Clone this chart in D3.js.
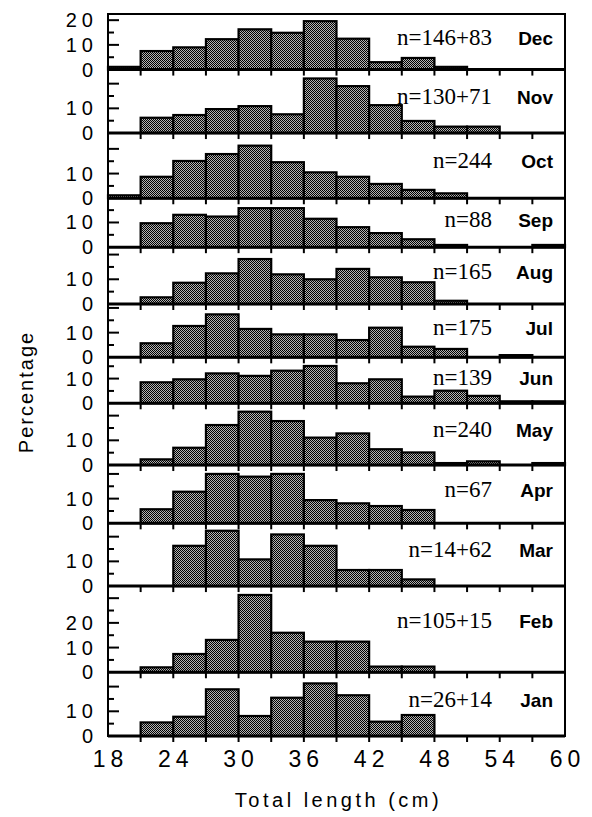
<!DOCTYPE html>
<html>
<head>
<meta charset="utf-8">
<script src="https://cdn.jsdelivr.net/npm/d3@7/dist/d3.min.js"></script>
<style>
  body { margin: 0; background: #fff; }
  svg { display: block; }
</style>
</head>
<body>
<svg id="chart" width="592" height="817"></svg>
<script>
// months, top panel to bottom panel
var months = ["Dec", "Nov", "Oct", "Sep", "Aug", "Jul", "Jun", "May", "Apr", "Mar", "Feb", "Jan"];
var sampleSizes = ["n=146+83", "n=130+71", "n=244", "n=88", "n=165", "n=175",
                   "n=139", "n=240", "n=67", "n=14+62", "n=105+15", "n=26+14"];

// 3 cm length classes starting at 18 cm
var binStarts = [18, 21, 24, 27, 30, 33, 36, 39, 42, 45, 48, 51, 54, 57];
var binWidth = 3;

// percentage per length class
var dec = [1.1, 7.5, 9.0, 12.3, 16.3, 14.9, 19.6, 12.5, 3.0, 4.7, 1.1, 0, 0, 0];
var nov = [0, 6.2, 7.3, 9.7, 10.9, 7.6, 22.1, 19.0, 11.3, 4.9, 2.6, 2.6, 0, 0];
var oct = [1.2, 8.7, 15.1, 17.9, 21.3, 14.6, 10.5, 8.7, 5.8, 3.4, 2.0, 0, 0, 0];
var sep = [0, 9.7, 13.1, 12.4, 15.8, 15.8, 11.5, 8.1, 5.7, 3.2, 0.9, 0, 0, 0.9];
var aug = [0, 2.7, 8.6, 12.4, 18.2, 12.0, 10.0, 14.2, 10.8, 8.8, 1.3, 0, 0, 0];
var jul = [0, 5.7, 12.7, 17.4, 11.5, 9.3, 9.3, 7.0, 12.0, 4.3, 3.4, 0, 0.9, 0];
var jun = [0, 8.5, 9.7, 12.1, 11.1, 13.2, 15.1, 8.1, 9.7, 2.7, 5.1, 3.0, 0.8, 0.8];
var may = [0, 2.3, 7.0, 16.2, 21.6, 17.8, 11.1, 12.8, 6.4, 5.1, 0.8, 1.5, 0, 0.8];
var apr = [0, 5.7, 12.8, 20.0, 18.9, 20.0, 9.4, 8.1, 7.0, 5.4, 0, 0, 0, 0];
var mar = [0, 0, 16.3, 22.4, 10.8, 20.9, 16.3, 6.5, 6.5, 2.7, 0, 0, 0, 0];
var feb = [0, 2.0, 7.4, 13.1, 31.3, 16.0, 12.4, 12.4, 2.3, 2.3, 0, 0, 0, 0];
var jan = [0, 5.5, 7.8, 18.9, 8.1, 15.5, 21.3, 16.5, 5.8, 8.5, 0, 0, 0, 0];
var series = [dec, nov, oct, sep, aug, jul, jun, may, apr, mar, feb, jan];

// y-axis top of each panel and labelled ticks
var yMax = [22.5, 25.7, 26.4, 19.8, 23.0, 21.6, 18.6, 25.0, 23.6, 25.4, 34.9, 25.8];
var yLabels = [[0, 10, 20], [0, 10], [0, 10], [0, 10], [0, 10], [0, 10],
               [0, 10], [0, 10], [0, 10], [0, 10], [0, 10, 20], [0, 10]];
var xTickLabels = [18, 24, 30, 36, 42, 48, 54, 60];

(function() {
  var svg = d3.select("#chart");
  var plotLeft = 108, plotRight = 565, plotTop = 14, plotBottom = 736;

  // dark checkered fill like the printed screen tone
  var pat = svg.append("defs").append("pattern")
    .attr("id", "hatch")
    .attr("patternUnits", "userSpaceOnUse")
    .attr("width", 2).attr("height", 2);
  pat.append("rect").attr("width", 2).attr("height", 2).attr("fill", "#b4b4b4");
  pat.append("rect").attr("x", 0).attr("y", 0).attr("width", 1).attr("height", 1).attr("fill", "#000");
  pat.append("rect").attr("x", 1).attr("y", 1).attr("width", 1).attr("height", 1).attr("fill", "#000");

  var x = d3.scaleLinear().domain([18, 60]).range([plotLeft, plotRight]);

  // stack panels, height proportional to their y range
  var pxPerUnit = (plotBottom - plotTop) / d3.sum(yMax);
  var y0 = plotTop;

  series.forEach(function(vals, i) {
    var h = yMax[i] * pxPerUnit;
    var base = y0 + h;
    var y = d3.scaleLinear().domain([0, yMax[i]]).range([base, y0]);
    var g = svg.append("g");

    var bins = binStarts.map(function(b, j) { return { x0: b, v: vals[j] }; })
      .filter(function(d) { return d.v > 0; });

    g.selectAll("rect.bar").data(bins).enter().append("rect")
      .attr("class", "bar")
      .attr("x", function(d) { return x(d.x0); })
      .attr("y", function(d) { return y(d.v); })
      .attr("width", function(d) { return x(d.x0 + binWidth) - x(d.x0); })
      .attr("height", function(d) { return y(0) - y(d.v); })
      .attr("fill", "url(#hatch)")
      .attr("stroke", "#000")
      .attr("stroke-width", 2.2);

    // baseline
    g.append("line")
      .attr("x1", plotLeft).attr("x2", plotRight)
      .attr("y1", base).attr("y2", base)
      .attr("stroke", "#000").attr("stroke-width", 3);

    // x ticks hanging under the baseline
    g.selectAll("line.xt").data(d3.range(21, 60, 3)).enter().append("line")
      .attr("class", "xt")
      .attr("x1", function(d) { return x(d); }).attr("x2", function(d) { return x(d); })
      .attr("y1", base).attr("y2", base + 6)
      .attr("stroke", "#000").attr("stroke-width", 2);

    // y ticks inward from the left frame
    var yt = d3.range(5, yMax[i] - 1.5, 5);
    g.selectAll("line.yt").data(yt).enter().append("line")
      .attr("class", "yt")
      .attr("x1", plotLeft).attr("x2", function(d) { return plotLeft + (d % 10 === 0 ? 11 : 6); })
      .attr("y1", function(d) { return y(d); }).attr("y2", function(d) { return y(d); })
      .attr("stroke", "#000").attr("stroke-width", 2);

    g.selectAll("text.yl").data(yLabels[i]).enter().append("text")
      .attr("class", "yl")
      .attr("x", 98)
      .attr("y", function(d) { return y(d) + 7; })
      .attr("text-anchor", "end")
      .style("font-family", "'Liberation Sans', Arial, sans-serif")
      .style("font-size", "20px")
      .style("letter-spacing", "5px")
      .text(function(d) { return d; });

    var ly = y0 + 12 + 0.35 * h;
    g.append("text")
      .attr("x", 492).attr("y", ly)
      .attr("text-anchor", "end")
      .style("font-family", "'Liberation Serif', 'Times New Roman', serif")
      .style("font-size", "23px")
      .text(sampleSizes[i]);
    g.append("text")
      .attr("x", 553).attr("y", ly)
      .attr("text-anchor", "end")
      .style("font-family", "'Liberation Sans', Arial, sans-serif")
      .style("font-size", "19px")
      .style("font-weight", "bold")
      .text(months[i]);

    y0 = base;
  });

  // outer frame
  svg.append("rect")
    .attr("x", plotLeft).attr("y", plotTop)
    .attr("width", plotRight - plotLeft).attr("height", plotBottom - plotTop)
    .attr("fill", "none").attr("stroke", "#000").attr("stroke-width", 2);

  // bottom axis labels
  svg.selectAll("text.xl").data(xTickLabels).enter().append("text")
    .attr("class", "xl")
    .attr("x", function(d) { return x(d) + 2.5; })
    .attr("y", 767)
    .attr("text-anchor", "middle")
    .style("font-family", "'Liberation Sans', Arial, sans-serif")
    .style("font-size", "23px")
    .style("letter-spacing", "5px")
    .text(function(d) { return d; });

  svg.append("text")
    .attr("x", (plotLeft + plotRight) / 2 + 2).attr("y", 807)
    .attr("text-anchor", "middle")
    .style("font-family", "'Liberation Sans', Arial, sans-serif")
    .style("font-size", "20px")
    .style("letter-spacing", "3.5px")
    .text("Total length (cm)");

  svg.append("text")
    .attr("transform", "translate(33,392) rotate(-90)")
    .attr("text-anchor", "middle")
    .style("font-family", "'Liberation Sans', Arial, sans-serif")
    .style("font-size", "20px")
    .style("letter-spacing", "2px")
    .text("Percentage");
})();
</script>
</body>
</html>
